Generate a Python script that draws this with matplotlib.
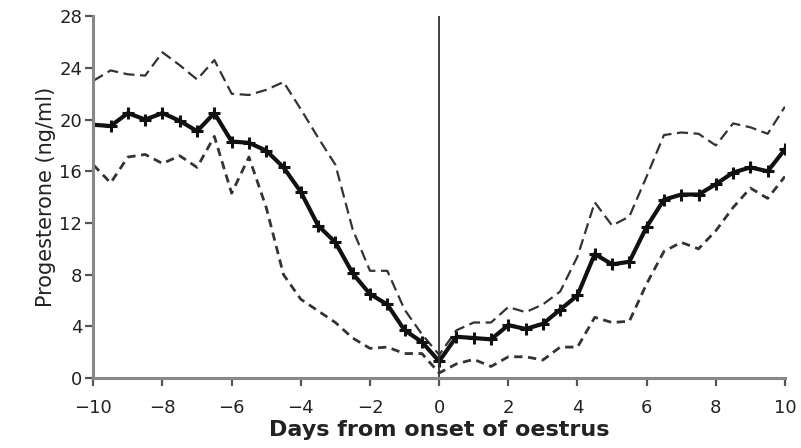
import numpy as np
import matplotlib
matplotlib.use("Agg")
import matplotlib.pyplot as plt

plt.rcParams['font.family'] = ['DejaVu Sans']

days = [-10, -9.5, -9, -8.5, -8, -7.5, -7, -6.5, -6, -5.5, -5, -4.5, -4, -3.5, -3,
        -2.5, -2, -1.5, -1, -0.5, 0, 0.5, 1, 1.5, 2, 2.5, 3, 3.5, 4, 4.5, 5, 5.5,
        6, 6.5, 7, 7.5, 8, 8.5, 9, 9.5, 10]

mean_p4 = [19.6, 19.5, 20.5, 20.0, 20.5, 19.9, 19.1, 20.5, 18.3, 18.2, 17.6, 16.3,
           14.4, 11.8, 10.5, 8.1, 6.5, 5.7, 3.7, 2.8, 1.3, 3.2, 3.1, 3.0, 4.1, 3.8,
           4.2, 5.3, 6.4, 9.6, 8.8, 9.0, 11.7, 13.8, 14.2, 14.2, 15.0, 15.9, 16.3,
           16.0, 17.7]

upper_p4 = [23.0, 23.8, 23.5, 23.4, 25.2, 24.2, 23.1, 24.6, 22.0, 21.9, 22.3, 22.9,
            20.8, 18.6, 16.5, 11.5, 8.3, 8.3, 5.3, 3.4, 1.8, 3.7, 4.3, 4.3, 5.5, 5.1,
            5.7, 6.7, 9.4, 13.6, 11.8, 12.5, 15.6, 18.8, 19.0, 18.9, 18.0, 19.7, 19.4,
            18.9, 21.0]

lower_p4 = [16.5, 15.1, 17.1, 17.3, 16.6, 17.2, 16.3, 18.7, 14.3, 17.1, 13.2, 8.0,
            6.1, 5.2, 4.3, 3.1, 2.3, 2.4, 1.9, 1.9, 0.4, 1.1, 1.45, 0.9, 1.65, 1.65,
            1.4, 2.4, 2.4, 4.7, 4.3, 4.4, 7.3, 9.8, 10.5, 10.0, 11.4, 13.2, 14.7,
            13.9, 15.6]

x_ticks = [-10, -8, -6, -4, -2, 0, 2, 4, 6, 8, 10]
y_ticks = [0, 4, 8, 12, 16, 20, 24, 28]

fig = plt.figure(figsize=(8.01, 4.48), dpi=100)
ax = fig.add_axes([0.1165, 0.156, 0.980 - 0.1165, 0.964 - 0.156])

ax.plot(days, upper_p4, color='#333333', lw=1.6, ls=(0, (5, 2.5)))
ax.plot(days, lower_p4, color='#333333', lw=2.0, ls=(0, (3, 2)))
ax.plot(days, mean_p4, color='#111111', lw=3.0, marker='+', ms=9, mew=2.2)
ax.axvline(0, color='#333333', lw=1.3)

ax.set_xlim(-10, 10)
ax.set_ylim(0, 28)
ax.set_xticks(x_ticks)
ax.set_yticks(y_ticks)
ax.set_xticklabels([('\u2212' + str(abs(t))) if t < 0 else str(t) for t in x_ticks])

for s in ['top', 'right']:
    ax.spines[s].set_visible(False)
for s in ['left', 'bottom']:
    ax.spines[s].set_color('#888888')
    ax.spines[s].set_linewidth(2.2)

ax.tick_params(axis='both', direction='out', length=6, width=1.6, color='#555555',
               labelsize=13, labelcolor='#222222')
ax.tick_params(axis='x', pad=9)
ax.tick_params(axis='y', pad=2)

ax.set_xlabel('Days from onset of oestrus', fontsize=16, fontweight='bold',
              color='#222222', labelpad=2)
ax.set_ylabel('Progesterone (ng/ml)', fontsize=15, color='#222222', labelpad=2)

fig.savefig('out.png', dpi=100)
